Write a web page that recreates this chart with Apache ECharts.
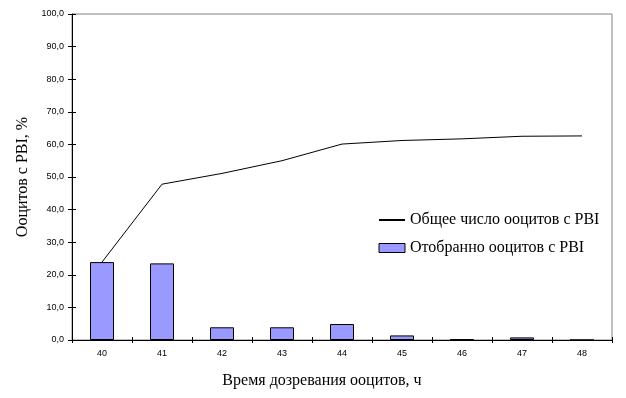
<!DOCTYPE html>
<html>
<head>
<meta charset="utf-8">
<script src="https://cdn.jsdelivr.net/npm/echarts@6/dist/echarts.min.js"></script>
<style>html,body{margin:0;padding:0;background:#fff}#c{width:626px;height:398px}</style>
</head>
<body>
<div id="c"></div>
<script>
var categories = ['40','41','42','43','44','45','46','47','48'];
var totalPBI = [23.9, 47.8, 51.1, 55.0, 60.1, 61.2, 61.7, 62.5, 62.6];
var selectedPBI = [23.9, 23.5, 3.9, 3.9, 4.9, 1.4, 0.2, 0.8, 0];
var lineName = 'Общее число ооцитов с PBI';
var barName = 'Отобранно ооцитов с PBI';
var xTitle = 'Время дозревания ооцитов, ч';
var yTitle = 'Ооцитов с PBI, %';

var chart = echarts.init(document.getElementById('c'), null, {renderer:'canvas'});
var fmt = function(v){ return v.toFixed(1).replace('.', ','); };
var serif = 'Liberation Serif';
var sans = 'Liberation Sans';
chart.setOption({
  animation: false,
  backgroundColor: '#fff',
  title: [
    {text: xTitle, left: 317, top: 368, textAlign: 'center',
     textStyle: {fontFamily: serif, fontSize: 16, fontWeight: 'normal', color: '#000'}}
  ],
  grid: {left: 72, right: 14, top: 14, bottom: 58, show: true, borderColor: '#808080', borderWidth: 1, backgroundColor: 'transparent'},
  legend: {
    orient: 'vertical', left: 373, top: 207, itemWidth: 26, itemHeight: 9, itemGap: 12,
    textStyle: {fontFamily: serif, fontSize: 16, color: '#000'},
    data: [
      {name: lineName, itemStyle: {opacity: 0}},
      {name: barName, icon: 'rect', itemStyle: {color: '#9999FF', borderColor: '#000', borderWidth: 1}}
    ]
  },
  xAxis: [{
    type: 'category', data: categories,
    axisLine: {lineStyle: {color: '#000', width: 1}},
    axisTick: {show: true, inside: false, length: 3, lineStyle: {color: '#000'}},
    axisLabel: {fontFamily: sans, fontSize: 9, color: '#000', margin: 9},
    splitLine: {show: false}
  }, {
    type: 'category', data: categories, position: 'bottom',
    axisLine: {show: false},
    axisTick: {show: true, inside: true, length: 3, lineStyle: {color: '#000'}},
    axisLabel: {show: false},
    splitLine: {show: false}
  }],
  yAxis: [{
    type: 'value', min: 0, max: 100, interval: 10,
    name: yTitle, nameLocation: 'middle', nameGap: 41,
    nameTextStyle: {fontFamily: serif, fontSize: 16, color: '#000'},
    axisLine: {show: true, lineStyle: {color: '#000', width: 1}},
    axisTick: {show: true, inside: false, length: 4, lineStyle: {color: '#000'}},
    axisLabel: {fontFamily: sans, fontSize: 9, color: '#000', margin: 8, formatter: fmt},
    splitLine: {show: false}
  }, {
    type: 'value', min: 0, max: 100, interval: 10, position: 'left',
    axisLine: {show: false},
    axisTick: {show: true, inside: true, length: 4, lineStyle: {color: '#000'}},
    axisLabel: {show: false},
    splitLine: {show: false}
  }],
  series: [{
    name: barName, type: 'bar', data: selectedPBI, barWidth: '40%',
    itemStyle: {color: '#9999FF', borderColor: '#000', borderWidth: 1},
    z: 2
  }, {
    name: lineName, type: 'line', data: totalPBI, symbol: 'none',
    lineStyle: {color: '#000', width: 1}, itemStyle: {color: '#000'},
    z: 3
  }]
});
</script>
</body>
</html>
